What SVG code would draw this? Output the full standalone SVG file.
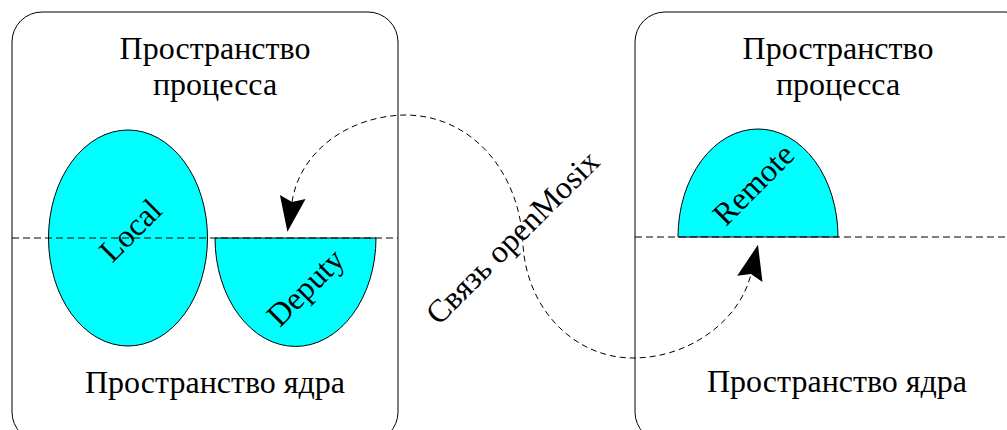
<svg xmlns="http://www.w3.org/2000/svg" width="1007" height="430" viewBox="0 0 1007 430">
<style>
  .box{fill:none;stroke:#000;stroke-width:1}
  .shape{fill:#00ffff;stroke:#000;stroke-width:1}
  .t{font-family:"Liberation Serif","Times New Roman",serif;font-size:32px;fill:#000;text-anchor:middle}
  .sep{fill:none;stroke:#000;stroke-width:1;stroke-dasharray:7 4}
  .link{fill:none;stroke:#000;stroke-width:1;stroke-dasharray:6 4}
</style>
<defs>
  <marker id="arrow" markerUnits="userSpaceOnUse" viewBox="-6 -14 37 28" markerWidth="37" markerHeight="28" refX="0" refY="0" orient="auto-start-reverse">
    <path d="M30,0 L-5,13 L0,0 L-5,-13 Z" fill="#000"/>
  </marker>
</defs>
<g id="local-node">
  <rect class="box" x="12" y="12" width="386" height="430" rx="30" ry="30"/>
  <text class="t" x="215" y="59">Пространство</text>
  <text class="t" x="215" y="95">процесса</text>
  <text class="t" x="215" y="393">Пространство ядра</text>
</g>
<g id="local">
  <ellipse class="shape" cx="128" cy="238" rx="79.5" ry="108"/>
  <text class="t" transform="translate(138,238) rotate(-45)">Local</text>
</g>
<g id="deputy">
  <path class="shape" d="M215,238 A80.5,108.5 0 0 0 376,238 Z"/>
  <text class="t" transform="translate(313,295) rotate(-45)">Deputy</text>
</g>
<g id="remote-node">
  <rect class="box" x="635" y="12" width="400" height="430" rx="30" ry="30"/>
  <text class="t" x="838" y="59">Пространство</text>
  <text class="t" x="838" y="95">процесса</text>
  <text class="t" x="837" y="392">Пространство ядра</text>
</g>
<g id="remote">
  <path class="shape" d="M678,237 A80,108 0 0 1 838,237 Z"/>
  <text class="t" transform="translate(761,192) rotate(-45)">Remote</text>
</g>
<g id="separators">
  <line class="sep" x1="12" y1="238" x2="398" y2="238"/>
  <line class="sep" x1="635" y1="237" x2="1007" y2="237"/>
</g>
<g id="connectors">
  <path class="link" d="M292,202 C300,150 350,116 405,115 C470,115 520,170 523,245 C527,310 575,358 633,358 C690,358 740,320 751,274" marker-start="url(#arrow)" marker-end="url(#arrow)"/>
  <text class="t" transform="translate(520,245) rotate(-45)">Связь openMosix</text>
</g>
</svg>
